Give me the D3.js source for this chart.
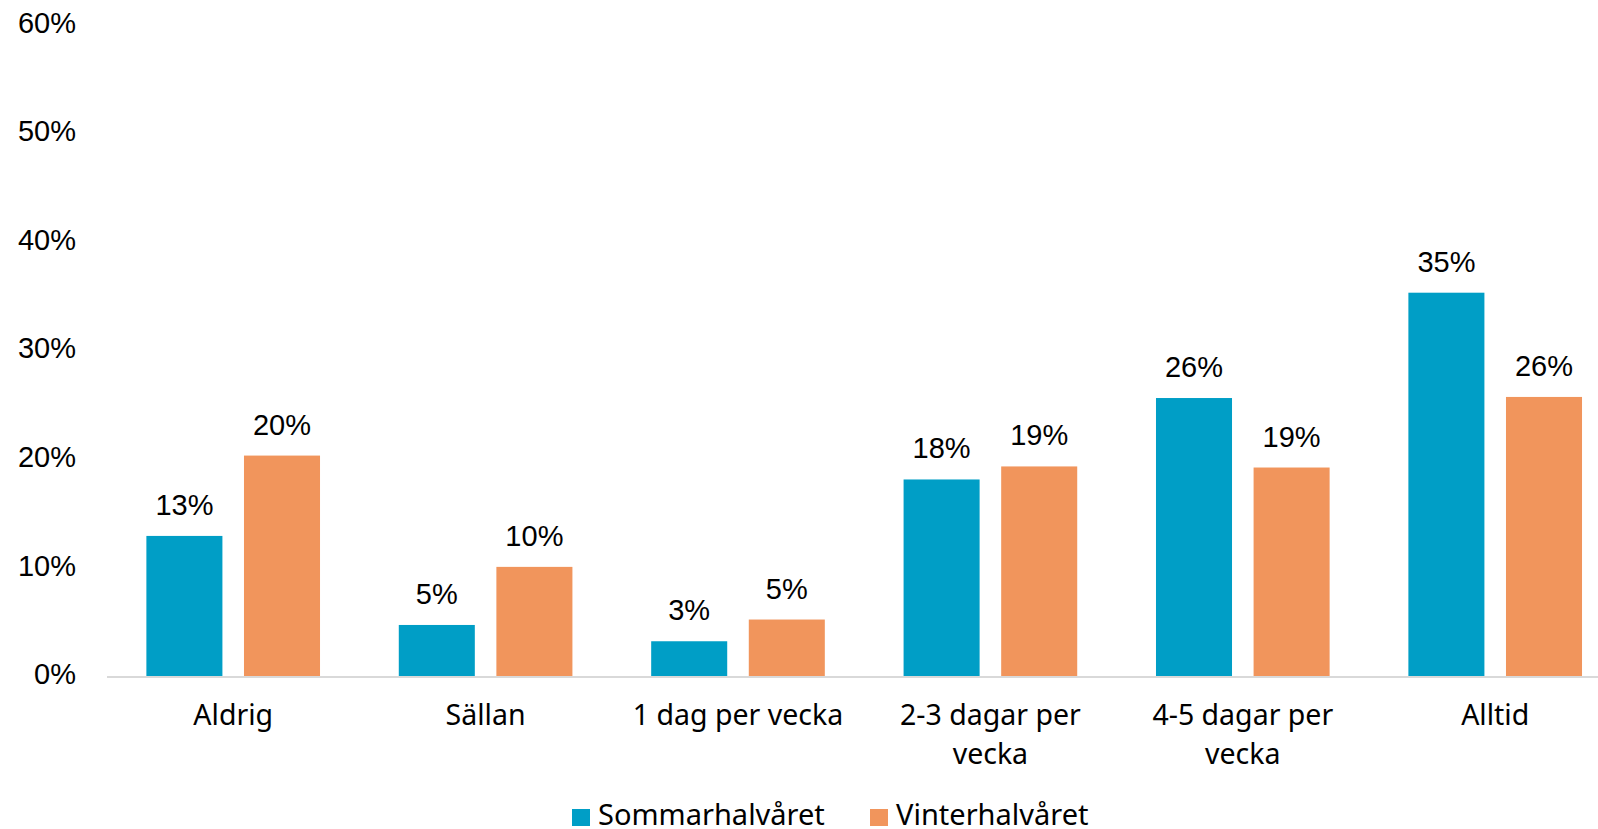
<!DOCTYPE html>
<html>
<head>
<meta charset="utf-8">
<script src="https://cdn.jsdelivr.net/npm/d3@7"></script>
<style>
  body { margin: 0; background: #fff; }
  .ytick { font-family: "Liberation Sans", Arial, sans-serif; font-size: 29px; fill: #000; }
  .vlabel { font-family: "Liberation Sans", Arial, sans-serif; font-size: 29px; fill: #000; }
  .cat { font-family: "Noto Sans", sans-serif; font-size: 28.5px; fill: #000; }
  .leg { font-family: "Noto Sans", sans-serif; font-size: 29px; fill: #000; }
</style>
</head>
<body>
<div id="chart"></div>
<script>
// data
var categories = ["Aldrig", "Sällan", "1 dag per vecka", "2-3 dagar per vecka", "4-5 dagar per vecka", "Alltid"];
var catLines = [["Aldrig"], ["Sällan"], ["1 dag per vecka"], ["2-3 dagar per", "vecka"], ["4-5 dagar per", "vecka"], ["Alltid"]];
var series = ["Sommarhalvåret", "Vinterhalvåret"];
var sommar = [0.129, 0.047, 0.032, 0.181, 0.256, 0.353];
var vinter = [0.203, 0.1005, 0.052, 0.193, 0.192, 0.257];
var yTicks = [0, 0.1, 0.2, 0.3, 0.4, 0.5, 0.6];
var colors = ["#009EC6", "#F1955C"];

var W = 1598, H = 829;

var svg = d3.select("#chart").append("svg")
  .attr("width", W)
  .attr("height", H);

// plot runs off the right edge, like the reference crop
var x0 = d3.scaleBand()
  .domain(categories)
  .range([107, 107 + 252.4 * 6])
  .padding(0);

var x1 = d3.scaleBand()
  .domain(series)
  .range([0, x0.bandwidth()])
  .paddingInner(0.221)
  .paddingOuter(0.4035);

var y = d3.scaleLinear()
  .domain([0, 0.6])
  .range([676, 24.5]);

var pct = d3.format(".0%");

// y labels
svg.append("g").selectAll("text")
  .data(yTicks)
  .enter().append("text")
  .attr("class", "ytick")
  .attr("x", 76)
  .attr("y", function(d) { return y(d) - 2; })
  .attr("dy", "0.35em")
  .attr("text-anchor", "end")
  .text(function(d) { return pct(d); });

var rows = categories.map(function(c, i) {
  return { cat: c, vals: [sommar[i], vinter[i]] };
});

var groups = svg.append("g").selectAll("g")
  .data(rows)
  .enter().append("g")
  .attr("transform", function(d) { return "translate(" + x0(d.cat) + ",0)"; });

groups.selectAll("rect")
  .data(function(d) { return d.vals.map(function(v, j) { return { s: series[j], v: v, j: j }; }); })
  .enter().append("rect")
  .attr("x", function(d) { return x1(d.s); })
  .attr("y", function(d) { return y(d.v); })
  .attr("width", x1.bandwidth())
  .attr("height", function(d) { return y(0) - y(d.v); })
  .attr("fill", function(d) { return colors[d.j]; });

groups.selectAll(".vlabel")
  .data(function(d) { return d.vals.map(function(v, j) { return { s: series[j], v: v }; }); })
  .enter().append("text")
  .attr("class", "vlabel")
  .attr("x", function(d) { return x1(d.s) + x1.bandwidth() / 2; })
  .attr("y", function(d) { return y(d.v) - 21; })
  .attr("text-anchor", "middle")
  .text(function(d) { return pct(d.v); });

// baseline
svg.append("line")
  .attr("x1", 107).attr("x2", W)
  .attr("y1", y(0) + 1).attr("y2", y(0) + 1)
  .attr("stroke", "#D9D9D9")
  .attr("stroke-width", 2);

// category labels
var cats = svg.append("g").selectAll("text")
  .data(categories)
  .enter().append("text")
  .attr("class", "cat")
  .attr("text-anchor", "middle")
  .attr("x", function(d) { return x0(d) + x0.bandwidth() / 2; })
  .attr("y", 725);

cats.each(function(d, i) {
  var t = d3.select(this);
  catLines[i].forEach(function(line, k) {
    t.append("tspan")
      .attr("x", x0(d) + x0.bandwidth() / 2)
      .attr("dy", k === 0 ? 0 : 39)
      .text(line);
  });
});

// legend
var legX = [572, 870];
var leg = svg.append("g").selectAll("g")
  .data(series)
  .enter().append("g")
  .attr("transform", function(d, i) { return "translate(" + legX[i] + ",0)"; });

leg.append("rect")
  .attr("x", 0).attr("y", 809)
  .attr("width", 18).attr("height", 17)
  .attr("fill", function(d, i) { return colors[i]; });

leg.append("text")
  .attr("class", "leg")
  .attr("x", 26)
  .attr("y", 825)
  .text(function(d) { return d; });
</script>
</body>
</html>
